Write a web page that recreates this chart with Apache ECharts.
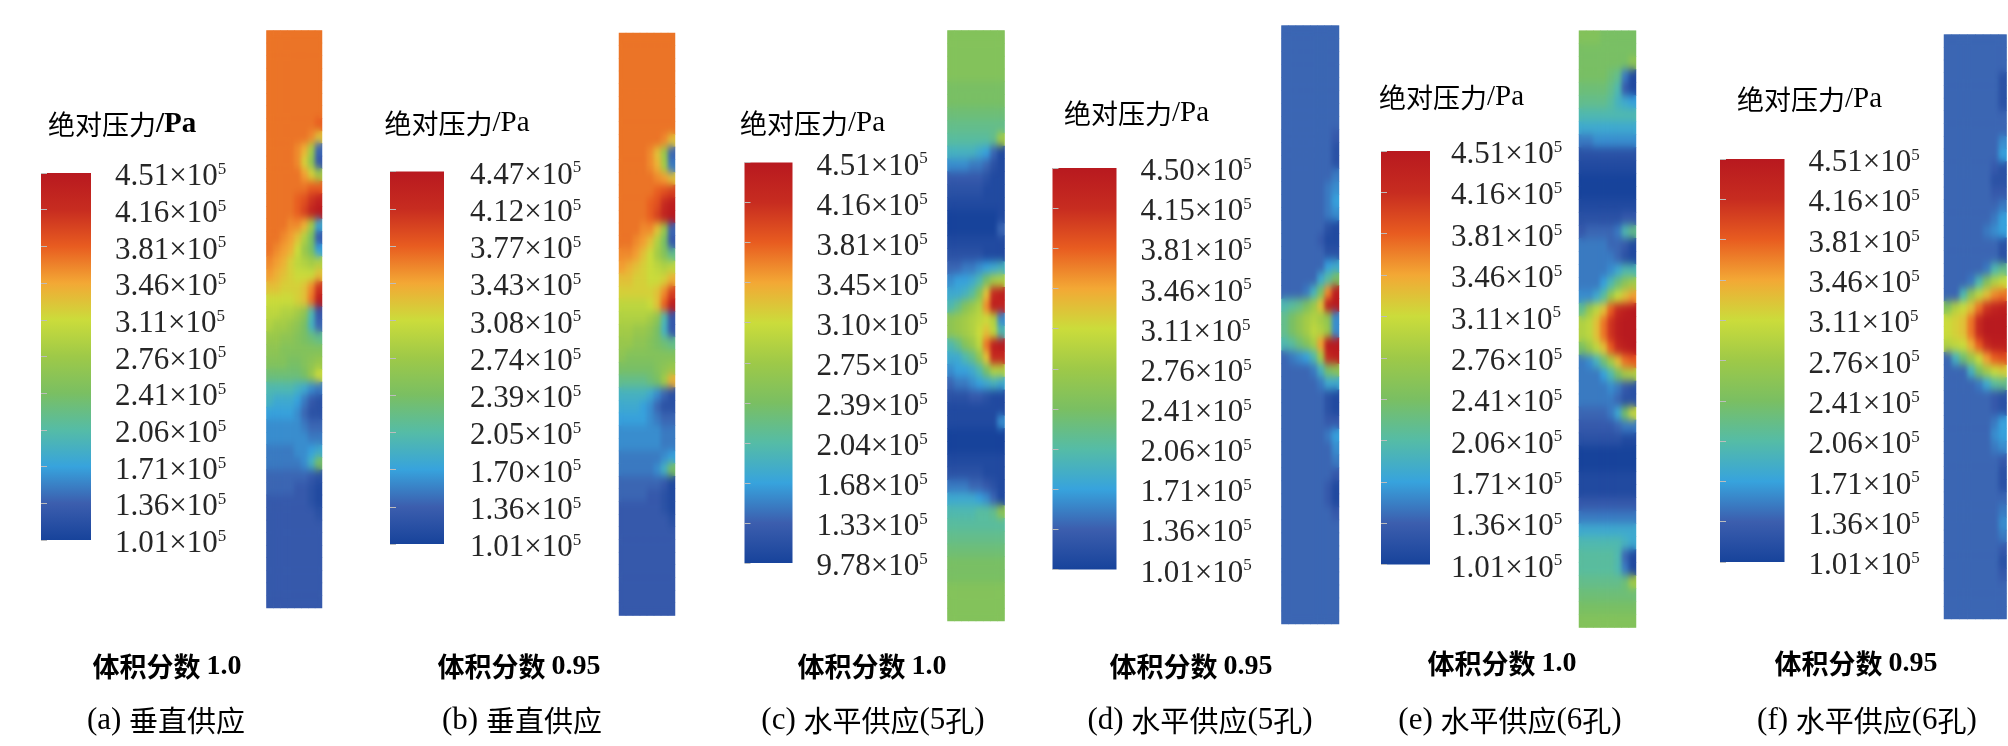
<!DOCTYPE html>
<html><head><meta charset="utf-8">
<style>html,body{margin:0;padding:0;background:#fff}#c{width:2008px;height:746px}</style>
<script src="https://cdn.jsdelivr.net/npm/echarts@6/dist/echarts.min.js"></script>
</head><body>
<svg width="0" height="0" style="position:absolute"><filter id="soft" x="0" y="0" width="100%" height="100%" color-interpolation-filters="sRGB"><feGaussianBlur stdDeviation="2 4"/></filter></svg>
<div id="c"></div>
<script>
// Pressure fields, unit 1e4 Pa (rows top to bottom, columns left to right)
const fieldA=[
[37,37,37,37,37,37,37,37],[37,37,37,37,37,37,37,37],[37,37,37,37,37,37,37,37],[37,37,37,37,37,37,37,37],
[37,37,37,37,37,37,37,37],[37,37,37,37,37,37,37,37],[37,37,37,37,37,37,37,37],[37,37,37,37,37,37,37,38],
[37,37,37,37,37,37,36,33],[37,37,37,37,36,34,28,14],[37,37,37,37,36,32,26,13],[37,37,37,37,37,35,32,28],
[37,37,37,37,37,37,38,38],[37,37,37,37,38,39,41,43],[37,37,37,37,38,40,43,45],[37,37,37,36,36,34,28,18],
[37,37,36,35,33,29,24,13],[37,36,35,34,31,27,24,17],[36,35,34,32,30,29,28,29],[35,34,33,32,31,31,31,33],
[33,33,32,32,32,33,36,41],[31,31,31,31,32,33,37,44],[30,30,29,29,28,26,20,13],[29,28,28,27,26,24,19,14],
[27,27,26,26,25,24,23,22],[26,26,25,25,25,25,25,25],[25,25,25,24,24,25,26,27],[23,23,23,23,23,24,27,31],
[20,20,20,20,19,18,16,15],[19,18,18,18,17,15,13,12],[17,17,17,17,16,14,12,12],[16,16,16,16,16,15,14,14],
[16,16,16,16,16,16,15,15],[15,15,15,15,16,16,17,18],[15,15,15,15,15,16,19,24],[14,14,14,14,14,14,13,12],
[14,14,14,14,13,13,12,11],[13,13,13,13,13,13,12,11],[13,13,13,13,13,13,13,12],[13,13,13,13,13,13,13,13],
[13,13,13,13,13,13,13,13],[13,13,13,13,13,13,13,13],[13,13,13,13,13,13,13,13],[13,13,13,13,13,13,13,13],
[13,13,13,13,13,13,13,13],[13,13,13,13,13,13,13,13]];
const fieldB=[
[37,37,37,37,37,37,37,37],[37,37,37,37,37,37,37,37],[37,37,37,37,37,37,37,37],[37,37,37,37,37,37,37,37],
[37,37,37,37,37,37,37,37],[37,37,37,37,37,37,37,37],[37,37,37,37,37,37,37,37],[37,37,37,37,37,37,37,37],
[37,37,37,37,37,37,36,33],[37,37,37,37,36,33,27,14],[37,37,37,37,36,34,28,15],[37,37,37,37,37,36,35,33],
[37,37,37,37,37,38,39,40],[37,37,37,37,38,39,42,44],[37,37,37,37,38,40,43,45],[37,37,37,36,36,33,27,14],
[37,37,36,35,33,29,24,13],[36,36,35,33,31,28,25,22],[35,34,33,32,31,30,29,30],[33,33,32,32,31,31,32,34],
[32,32,32,32,32,33,36,40],[30,30,30,30,31,33,38,44],[29,29,29,29,28,26,20,13],[28,28,27,27,26,24,19,13],
[27,27,26,26,25,24,23,22],[26,25,25,25,25,25,25,25],[24,24,24,24,24,25,26,27],[22,22,22,22,23,24,28,34],
[19,19,19,19,18,16,14,12],[18,18,18,17,16,14,12,12],[17,17,17,17,16,15,14,14],[16,16,16,16,16,16,15,15],
[16,16,16,16,16,16,15,15],[15,15,15,15,15,15,16,17],[15,15,15,15,15,16,19,24],[14,14,14,14,14,14,13,11],
[14,14,14,14,13,13,12,11],[13,13,13,13,13,13,12,11],[13,13,13,13,13,13,13,12],[13,13,13,13,13,13,13,13],
[13,13,13,13,13,13,13,13],[13,13,13,13,13,13,13,13],[13,13,13,13,13,13,13,13],[13,13,13,13,13,13,13,13],
[13,13,13,13,13,13,13,13],[13,13,13,13,13,13,13,13]];
const fieldC=[
[25,25,25,25,25,25,25,25],[25,25,25,25,25,25,25,25],[25,25,25,25,25,25,25,25],[25,25,25,25,25,25,25,25],
[24,24,24,24,24,24,24,24],[24,24,24,24,24,24,24,24],[23,23,23,23,23,23,23,23],[22,22,22,22,22,22,22,22],
[21,21,21,21,21,21,22,28],[19,19,19,19,18,17,14,11],[16,16,16,15,15,14,12,11],[13,13,13,13,13,12,11,11],
[12,12,12,12,12,11,11,11],[11,11,11,11,11,11,11,11],[10,10,10,10,10,10,10,11],[10,10,10,10,10,10,10,14],
[11,11,11,11,11,11,11,11],[12,12,12,12,12,11,11,11],[14,14,15,15,16,17,18,19],[16,17,17,18,20,24,28,29],
[18,18,19,21,25,33,42,44],[20,22,25,27,29,36,44,43],[26,27,28,29,30,31,29,16],[26,27,28,29,31,33,30,20],
[20,22,25,27,30,37,44,45],[18,18,20,22,26,33,42,42],[16,17,17,18,20,24,29,29],[14,15,15,16,17,18,19,18],
[12,12,12,13,13,12,11,11],[11,11,11,11,11,11,11,11],[11,11,11,11,11,11,11,16],[10,10,10,10,10,10,10,10],
[10,10,10,10,10,10,10,10],[11,11,11,11,11,11,11,11],[12,12,12,12,12,11,11,11],[15,15,15,14,14,13,12,11],
[18,18,18,18,17,16,14,11],[20,20,20,20,21,21,22,26],[21,21,21,21,21,21,21,21],[22,22,22,22,22,22,22,22],
[23,23,23,23,23,23,23,23],[24,24,24,24,24,24,24,24],[24,24,24,24,24,24,24,24],[25,25,25,25,25,25,25,25],
[25,25,25,25,25,25,25,25],[25,25,25,25,25,25,25,25]];
const fieldD=[
[14,14,14,14,14,14,14,14],[14,14,14,14,14,14,14,14],[14,14,14,14,14,14,14,14],[14,14,14,14,14,14,14,14],
[14,14,14,14,14,14,14,14],[14,14,14,14,14,14,14,14],[14,14,14,14,14,14,14,14],[14,14,14,14,14,14,14,14],
[14,14,14,14,14,14,14,13],[14,14,14,14,14,14,14,12],[14,14,14,14,14,14,14,12],[14,14,14,14,14,14,14,15],
[14,14,14,14,14,14,15,16],[14,14,14,14,14,14,15,17],[14,14,14,14,14,14,15,16],[14,14,14,14,14,14,12,11],
[14,14,14,14,14,13,11,11],[14,14,14,14,14,14,12,12],[14,14,14,14,14,14,17,18],[14,14,14,14,14,18,21,24],
[14,14,14,15,19,24,36,44],[20,21,22,24,27,33,44,45],[22,24,26,28,29,28,26,16],[22,24,26,28,30,29,27,16],
[20,21,23,25,28,35,45,45],[14,15,16,17,20,28,42,44],[14,14,14,14,15,19,24,26],[14,14,14,14,14,15,18,18],
[14,14,14,14,14,14,12,11],[14,14,14,14,14,14,12,11],[14,14,14,14,14,14,13,13],[14,14,14,14,14,14,15,17],
[14,14,14,14,14,14,14,16],[14,14,14,14,14,14,14,15],[14,14,14,14,14,14,14,13],[14,14,14,14,14,14,13,11],
[14,14,14,14,14,14,13,11],[14,14,14,14,14,14,14,13],[14,14,14,14,14,14,14,14],[14,14,14,14,14,14,14,14],
[14,14,14,14,14,14,14,14],[14,14,14,14,14,14,14,14],[14,14,14,14,14,14,14,14],[14,14,14,14,14,14,14,14],
[14,14,14,14,14,14,14,14],[14,14,14,14,14,14,14,14]];
const fieldE=[
[25,25,25,24,24,24,24,24],[24,24,24,24,24,24,24,24],[24,24,24,24,24,24,24,26],[24,24,24,24,23,22,15,11],
[23,23,23,23,22,20,13,11],[22,22,22,22,21,19,18,17],[20,20,20,20,20,20,20,20],[18,18,18,18,18,18,18,18],
[15,15,16,16,16,16,16,16],[12,12,12,12,12,12,12,12],[11,11,11,11,11,11,11,11],[10,10,10,10,10,10,10,10],
[10,10,10,10,10,10,10,10],[11,11,11,11,11,11,11,11],[12,12,12,12,12,12,13,13],[13,14,14,14,14,15,20,22],
[15,15,15,15,14,14,13,11],[15,15,15,15,15,14,12,11],[15,15,15,15,16,18,20,20],[15,15,15,17,20,23,26,28],
[16,16,18,21,27,31,33,35],[22,27,30,33,38,42,44,45],[29,30,33,37,41,44,45,45],[29,30,33,37,41,44,45,45],
[24,27,30,33,38,42,44,45],[15,16,19,23,28,33,37,38],[15,15,15,17,20,24,28,29],[15,15,15,15,16,15,13,12],
[15,15,15,15,15,14,12,12],[14,14,14,14,15,18,24,31],[13,13,13,13,13,14,15,15],[12,12,12,12,12,12,11,11],
[10,10,10,10,10,10,10,10],[10,10,10,10,10,10,10,10],[11,11,11,11,11,11,11,11],[11,11,11,11,11,11,11,11],
[13,13,13,13,13,13,13,13],[15,15,15,15,15,15,15,15],[18,18,18,18,18,18,18,18],[20,20,20,20,20,20,19,18],
[21,21,21,21,21,20,14,11],[21,21,21,21,21,20,15,11],[22,22,22,22,22,22,23,28],[23,23,23,23,23,23,23,23],
[24,24,24,24,24,24,24,24],[25,25,25,25,25,25,25,25]];
const fieldF=[
[14,14,14,14,14,14,14,14],[14,14,14,14,14,14,14,14],[14,14,14,14,14,14,14,14],[14,14,14,14,14,14,14,12],
[14,14,14,14,14,14,14,12],[14,14,14,14,14,14,14,12],[14,14,14,14,14,14,14,14],[14,14,14,14,14,14,14,14],
[14,14,14,14,14,14,14,16],[14,14,14,14,14,14,14,17],[14,14,14,14,14,14,13,12],[14,14,14,14,14,14,12,12],
[14,14,14,14,14,14,13,13],[14,14,14,14,14,14,14,15],[14,14,14,14,14,14,15,17],[14,14,14,14,14,15,16,17],
[14,14,14,14,14,14,14,12],[14,14,14,14,14,14,14,12],[14,14,14,14,14,15,20,22],[14,14,14,15,20,25,29,31],
[14,14,20,26,30,33,36,37],[25,29,31,33,37,41,43,44],[31,32,33,37,42,45,45,45],[31,32,33,37,42,45,45,45],
[29,30,31,34,38,42,44,44],[14,19,23,27,31,35,38,39],[14,14,14,19,24,28,31,32],[14,14,14,14,15,18,21,22],
[14,14,14,14,14,14,13,12],[14,14,14,14,14,14,13,12],[14,14,14,14,14,14,15,17],[14,14,14,14,14,14,16,17],
[14,14,14,14,14,14,15,16],[14,14,14,14,14,14,14,13],[14,14,14,14,14,14,14,12],[14,14,14,14,14,14,14,12],
[14,14,14,14,14,14,14,14],[14,14,14,14,14,14,14,15],[14,14,14,14,14,14,14,16],[14,14,14,14,14,14,14,15],
[14,14,14,14,14,14,14,13],[14,14,14,14,14,14,14,12],[14,14,14,14,14,14,14,13],[14,14,14,14,14,14,14,14],
[14,14,14,14,14,14,14,14],[14,14,14,14,14,14,14,14]];

// Colour-bar tick labels as printed, top to bottom
const ticksA=['4.51','4.16','3.81','3.46','3.11','2.76','2.41','2.06','1.71','1.36','1.01'];
const ticksB=['4.47','4.12','3.77','3.43','3.08','2.74','2.39','2.05','1.70','1.36','1.01'];
const ticksC=['4.51','4.16','3.81','3.45','3.10','2.75','2.39','2.04','1.68','1.33','9.78'];
const ticksD=['4.50','4.15','3.81','3.46','3.11','2.76','2.41','2.06','1.71','1.36','1.01'];
const ticksE=['4.51','4.16','3.81','3.46','3.11','2.76','2.41','2.06','1.71','1.36','1.01'];
const ticksF=['4.51','4.16','3.81','3.46','3.11','2.76','2.41','2.06','1.71','1.36','1.01'];

const fractions=['1.0','0.95','1.0','0.95','1.0','0.95'];
const subcaptions=['(a) ','(b) ','(c) ','(d) ','(e) ','(f) '];
const supplies=['垂直供应','垂直供应','水平供应(5孔)','水平供应(5孔)','水平供应(6孔)','水平供应(6孔)'];

// Rainbow stops of the colour bars, bottom to top
const rainbow=['#17439b','#3c5eae','#37a3dd','#55bca6','#7abf62','#9ec948','#cbdc3b','#f3a835','#e85c20','#c72c20','#b8191f'];

const fields=[fieldA,fieldB,fieldC,fieldD,fieldE,fieldF];
const ticks=[ticksA,ticksB,ticksC,ticksD,ticksE,ticksF];
const SERIF='"Liberation Serif"', CJK='"Noto Sans CJK SC"';

// layout: strip rect, colour-bar rect, title anchor, caption centres, label margin
const layout=[
 {s:[266.5,30.5,55.5,577.5],b:[41,173,50,367],t:[48,124.5,true],c:[167,667,166,721],m:24},
 {s:[619,33,56,582.5],b:[390,171.5,54,372.5],t:[384.5,123.5,false],c:[519,667,522,721],m:26},
 {s:[947.5,30.5,57,590.5],b:[744.5,162.5,48,400.5],t:[740,123.5,false],c:[872,667,873,721],m:24},
 {s:[1281.5,25.6,57.5,598.4],b:[1052.5,168,64,401.5],t:[1064,113.6,false],c:[1191,667,1200,721],m:24},
 {s:[1579,30.7,57,596.8],b:[1381,151,49,413.5],t:[1379,97.3,false],c:[1502,664,1510,721],m:21},
 {s:[1944,34.6,62.5,584.4],b:[1720,159,64.5,403],t:[1737,99.8,false],c:[1856,664,1867,721],m:24}
];

const grid=[],xAxis=[],yAxis=[],series=[],visualMap=[],graphic=[];
const ink='#262626';
const ramp=()=>new echarts.graphic.LinearGradient(0,1,0,0,rainbow.map((color,k)=>({offset:k/(rainbow.length-1),color})));
layout.forEach((p,i)=>{
  const f=fields[i];
  // strip: a crisp layer plus a softened copy on its own canvas layer
  grid.push({left:p.s[0],top:p.s[1],width:p.s[2],height:p.s[3],containLabel:false});
  xAxis.push({type:'category',gridIndex:2*i,data:f[0].map((_,k)=>k),show:false});
  yAxis.push({type:'category',gridIndex:2*i,data:f.map((_,k)=>k),inverse:true,show:false});
  const data=[];
  f.forEach((r,y)=>r.forEach((v,x)=>data.push([x,y,v/10])));
  [0,1].forEach(z=>series.push({type:'heatmap',xAxisIndex:2*i,yAxisIndex:2*i,data,zlevel:z,progressive:0,silent:true,emphasis:{disabled:true},itemStyle:{borderWidth:0}}));
  // colour bar with its ticks and labels
  grid.push({show:true,left:p.b[0],top:p.b[1],width:p.b[2],height:p.b[3],containLabel:false,borderWidth:0,backgroundColor:ramp()});
  xAxis.push({type:'value',gridIndex:2*i+1,show:false});
  yAxis.push({type:'category',gridIndex:2*i+1,data:ticks[i],inverse:true,boundaryGap:false,position:'right',
    axisLine:{show:false},splitLine:{show:false},
    axisTick:{show:true,length:6,alignWithLabel:true,lineStyle:{color:'#bdbdbd',width:1}},
    axisLabel:{show:true,interval:0,margin:p.m,align:'left',showMinLabel:true,showMaxLabel:true,padding:[8,0,0,0],
      formatter:v=>'{b|'+v+'×10}{s|5}',
      rich:{b:{fontFamily:SERIF,fontSize:31,color:ink,lineHeight:32},
            s:{fontFamily:SERIF,fontSize:17,color:ink,verticalAlign:'top',lineHeight:18}}}});
  visualMap.push({type:'continuous',show:false,seriesIndex:[2*i,2*i+1],min:1.01,max:4.51,inRange:{color:rainbow}});
  // title
  graphic.push({type:'text',x:p.t[0],y:p.t[1],silent:true,style:{
    text:'{c|绝对压力}{l|/Pa}',align:'left',verticalAlign:'middle',
    rich:{c:{fontFamily:CJK,fontSize:27,color:ink},
          l:{fontFamily:SERIF,fontSize:29,color:ink,fontWeight:p.t[2]?'bold':'normal'}}}});
  // captions
  graphic.push({type:'text',x:p.c[0],y:p.c[1],silent:true,style:{
    text:'{c|体积分数 }{l|'+fractions[i]+'}',align:'center',verticalAlign:'middle',
    rich:{c:{fontFamily:CJK,fontSize:27,fontWeight:'bold',color:ink},
          l:{fontFamily:SERIF,fontSize:28,fontWeight:'bold',color:ink}}}});
  const parts=supplies[i].split(/([\u4e00-\u9fff]+)/).filter(Boolean)
    .map(t=>/[\u4e00-\u9fff]/.test(t)?'{c|'+t+'}':'{l|'+t+'}').join('');
  graphic.push({type:'text',x:p.c[2],y:p.c[3],silent:true,style:{
    text:'{l|'+subcaptions[i]+'}'+parts,align:'center',verticalAlign:'middle',
    rich:{c:{fontFamily:CJK,fontSize:29,color:ink},
          l:{fontFamily:SERIF,fontSize:31,color:ink}}}});
});

// soften only the upper layer, and only inside the strips
const clip=layout.map(p=>`M${p.s[0]} ${p.s[1]}h${p.s[2]}v${p.s[3]}h${-p.s[2]}z`).join(' ');
const css=document.createElement('style');
css.textContent=`#c canvas[data-zr-dom-id="zr_1"]{filter:url(#soft);clip-path:path("${clip}")}`;
document.head.appendChild(css);

const chart=echarts.init(document.getElementById('c'),null,{renderer:'canvas',width:2008,height:746});
chart.setOption({animation:false,backgroundColor:'#fff',tooltip:{show:false},grid,xAxis,yAxis,series,visualMap,graphic});
</script></body></html>
